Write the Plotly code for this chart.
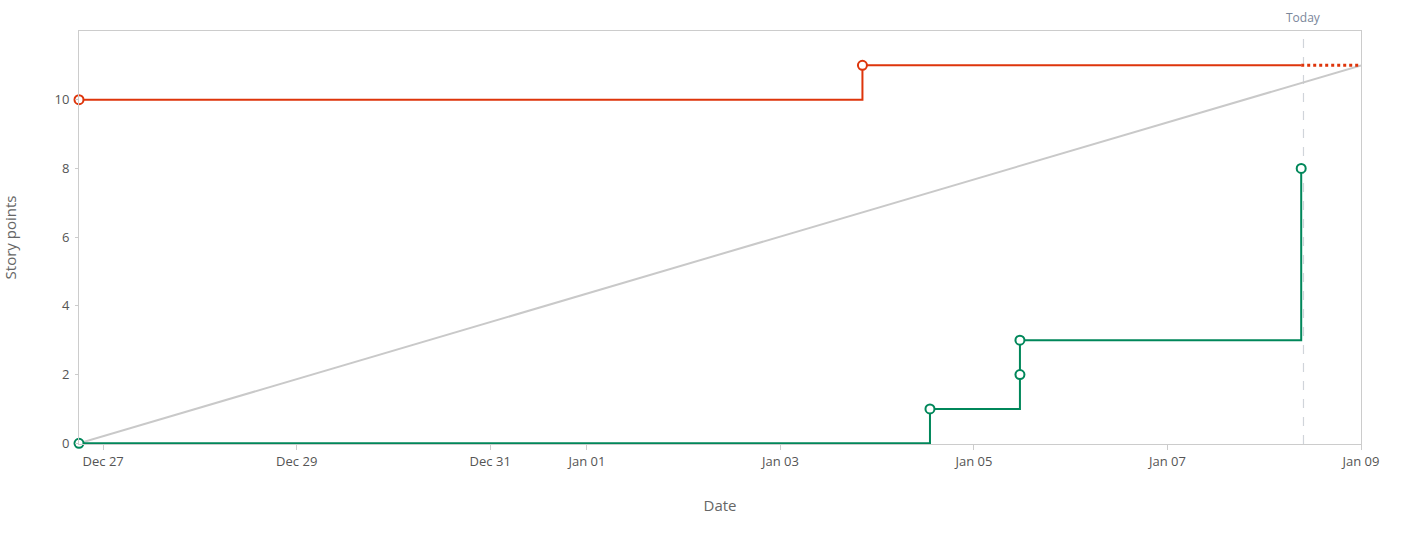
import plotly.graph_objects as go

# Data
range_start = "2023-12-26 18:00"
range_end = "2024-01-09 00:00"
today = "2024-01-08 09:44"

tick_dates = ["2023-12-27", "2023-12-29", "2023-12-31", "2024-01-01",
              "2024-01-03", "2024-01-05", "2024-01-07", "2024-01-09"]
y_ticks = [0, 2, 4, 6, 8, 10]

scope_dates = ["2023-12-26 18:00", "2024-01-03 20:20", "2024-01-08 09:10"]
scope_values = [10, 11, 11]
scope_marker = [True, True, False]

forecast_dates = ["2024-01-08 09:10", "2024-01-09 00:00"]
forecast_values = [11, 11]

done_dates = ["2023-12-26 18:00", "2024-01-04 13:05", "2024-01-05 11:24",
              "2024-01-05 11:24", "2024-01-08 09:10"]
done_values = [0, 1, 2, 3, 8]

ideal_dates = ["2023-12-26 18:00", "2024-01-09 00:00"]
ideal_values = [0, 11]

RED = "#de350b"
GREEN = "#00875a"
GREY = "#c9c9c9"

fig = go.Figure()

fig.add_trace(go.Scatter(x=ideal_dates, y=ideal_values, mode="lines",
                         line=dict(color=GREY, width=2), hoverinfo="skip"))

fig.add_trace(go.Scatter(x=forecast_dates, y=forecast_values, mode="lines",
                         line=dict(color=RED, width=3, dash="dot"), hoverinfo="skip"))

fig.add_trace(go.Scatter(x=scope_dates, y=scope_values, mode="lines",
                         line=dict(color=RED, width=2, shape="hv")))
fig.add_trace(go.Scatter(
    x=[d for d, m in zip(scope_dates, scope_marker) if m],
    y=[v for v, m in zip(scope_values, scope_marker) if m],
    mode="markers", cliponaxis=False,
    marker=dict(symbol="circle", size=9, color="white", line=dict(color=RED, width=2))))

fig.add_trace(go.Scatter(x=done_dates, y=done_values, mode="lines",
                         line=dict(color=GREEN, width=2, shape="hv")))
fig.add_trace(go.Scatter(x=done_dates, y=done_values, mode="markers", cliponaxis=False,
                         marker=dict(symbol="circle", size=9, color="white",
                                     line=dict(color=GREEN, width=2))))

fig.add_shape(type="line", xref="x", yref="paper", x0=today, x1=today, y0=0, y1=1,
              line=dict(color="#d0d4da", width=1.2, dash="dash"), layer="below")
fig.add_annotation(x=today, xref="x", y=1, yref="paper", yanchor="bottom", yshift=3,
                   text="Today", showarrow=False,
                   font=dict(family="Open Sans, sans-serif", size=12, color="#7a869a"))

fig.update_layout(
    width=1405, height=550,
    margin=dict(l=79, r=44, t=31, b=106, autoexpand=False),
    paper_bgcolor="white", plot_bgcolor="white",
    showlegend=False,
    font=dict(family="Open Sans, sans-serif", size=13, color="#555555"),
    xaxis=dict(type="date", range=[range_start, range_end],
               tickvals=tick_dates, tickformat="%b %d",
               showgrid=False, zeroline=False, automargin=False,
               showline=True, linecolor="#cccccc", linewidth=1, mirror=True,
               ticks="outside", ticklen=5, tickcolor="#cccccc",
               title=dict(text="Date", standoff=31,
                          font=dict(size=15, color="#666666"))),
    yaxis=dict(range=[-0.02, 12], tickvals=y_ticks,
               showgrid=False, zeroline=False, automargin=False,
               showline=True, linecolor="#cccccc", linewidth=1, mirror=True,
               ticks="outside", ticklen=3, tickcolor="#cccccc",
               ticklabelstandoff=3,
               title=dict(text="Story points", standoff=52,
                          font=dict(size=15, color="#666666"))),
)

fig.write_html("out.html", config={"displayModeBar": False},
               post_script="document.body.style.margin='0';")
